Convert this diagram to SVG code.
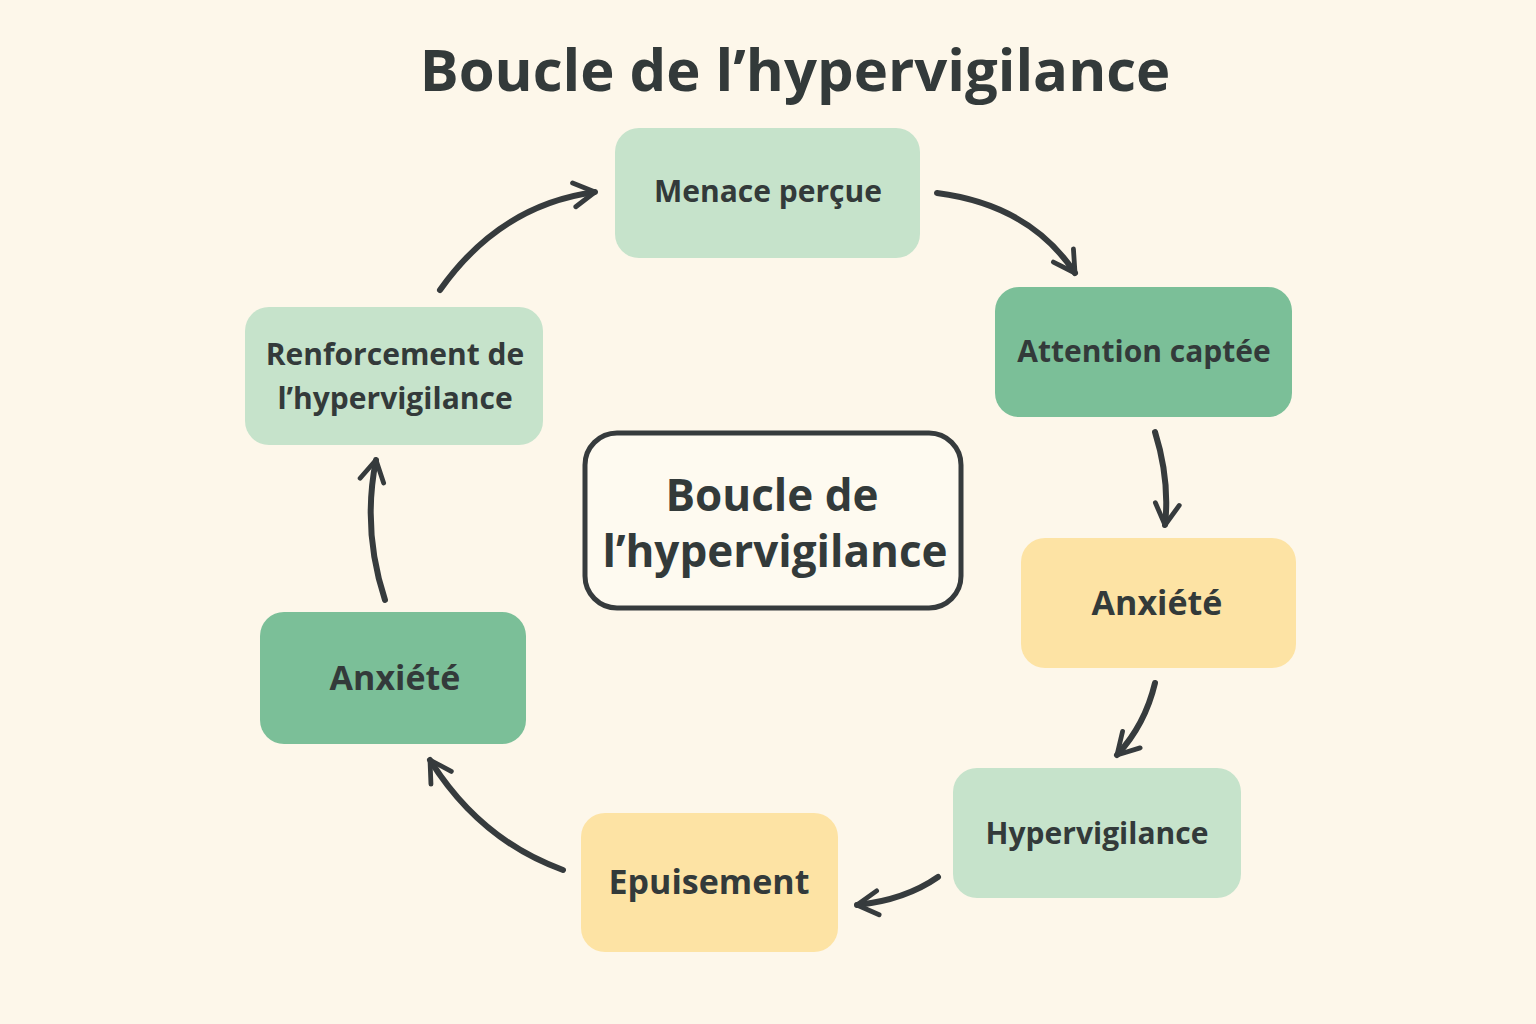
<svg xmlns="http://www.w3.org/2000/svg" width="1536" height="1024" viewBox="0 0 1536 1024">
<style>
text{font-family:"Open Sans","Liberation Sans",sans-serif;font-weight:700;fill:#333a3a;text-anchor:middle}
.lg{fill:#c6e3cb}.dg{fill:#7bbf98}.yl{fill:#fde3a4}
.c{fill:none;stroke:#363b3d;stroke-width:6;stroke-linecap:round}
</style>
<defs>
<marker id="ah" viewBox="0 0 10 10" refX="8" refY="5" markerWidth="5" markerHeight="5" orient="auto" markerUnits="strokeWidth">
<polyline points="1,1 8,5 1,9" fill="none" stroke="#363b3d" stroke-width="1.6" stroke-linecap="round" stroke-linejoin="round"/>
</marker>
</defs>
<rect width="1536" height="1024" fill="#fdf7ea"/>
<text x="795" y="91" font-size="58">Boucle de l’hypervigilance</text>
<g id="n1"><rect class="lg" x="615" y="128" width="305" height="130" rx="24"/><text x="768" y="202" font-size="30">Menace perçue</text></g>
<g id="n2"><rect class="dg" x="995" y="287" width="297" height="130" rx="24"/><text x="1144" y="362" font-size="30">Attention captée</text></g>
<g id="n3"><rect class="yl" x="1021" y="538" width="275" height="130" rx="24"/><text x="1157" y="615" font-size="34">Anxiété</text></g>
<g id="n4"><rect class="lg" x="953" y="768" width="288" height="130" rx="24"/><text x="1097" y="844" font-size="30">Hypervigilance</text></g>
<g id="n5"><rect class="yl" x="581" y="813" width="257" height="139" rx="24"/><text x="709" y="894" font-size="34">Epuisement</text></g>
<g id="n6"><rect class="dg" x="260" y="612" width="266" height="132" rx="24"/><text x="395" y="690" font-size="34">Anxiété</text></g>
<g id="n7"><rect class="lg" x="245" y="307" width="298" height="138" rx="24"/><text x="395" y="365" font-size="30">Renforcement de</text><text x="395" y="409" font-size="30">l’hypervigilance</text></g>
<g id="center"><rect x="585" y="433" width="376" height="175" rx="32" fill="#fefaf0" stroke="#363b3d" stroke-width="5"/><text x="772" y="511" font-size="44">Boucle de</text><text x="775" y="567" font-size="44">l’hypervigilance</text></g>
<g id="connectors">
<path class="c" marker-end="url(#ah)" d="M440,290 Q500,205 595,192"/>
<path class="c" marker-end="url(#ah)" d="M937,193 Q1030,205 1075,273"/>
<path class="c" marker-end="url(#ah)" d="M1155,432 Q1170,480 1165,525"/>
<path class="c" marker-end="url(#ah)" d="M1155,683 Q1145,725 1117,755"/>
<path class="c" marker-end="url(#ah)" d="M938,877 Q905,900 857,905"/>
<path class="c" marker-end="url(#ah)" d="M563,870 Q480,840 430,760"/>
<path class="c" marker-end="url(#ah)" d="M385,600 Q362,530 376,460"/>
</g>
</svg>
